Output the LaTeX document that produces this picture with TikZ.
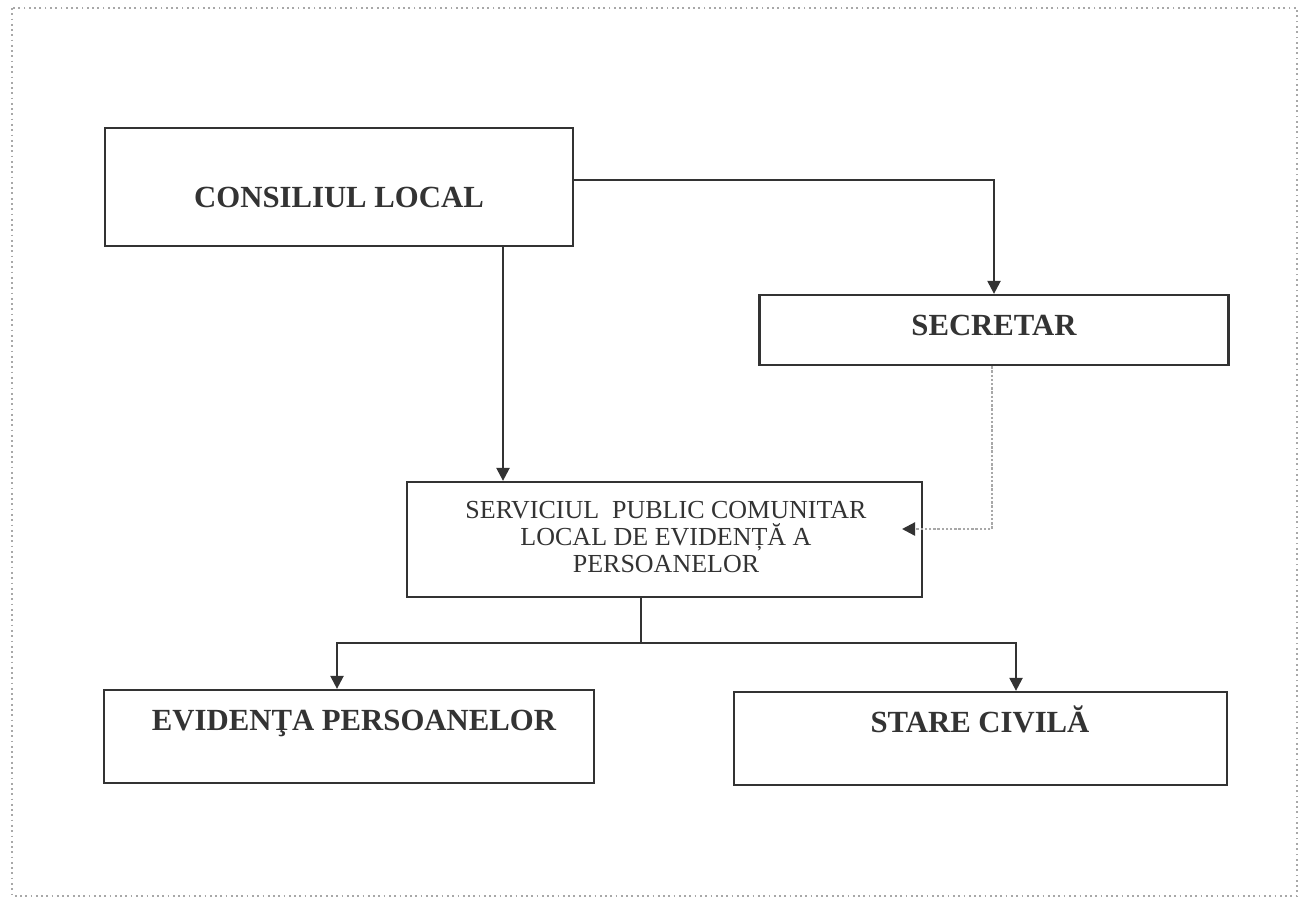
\documentclass[tikz,border=0pt]{standalone}
\usepackage{fontspec}
\setmainfont{Liberation Serif}
\usepackage{tikz}
\usetikzlibrary{arrows.meta}
\usepackage{xcolor}
\definecolor{ink}{HTML}{333333}
\definecolor{frame}{HTML}{A8A8A8}
\tikzset{%
    box/.style 2 args={draw=ink, line width=1.3pt, inner sep=0pt,
        minimum width=#1, minimum height=#2},
    bigtext/.style={font=\fontsize{17.5}{20}\selectfont\bfseries, text=ink, inner sep=0pt},
    smalltext/.style={font=\fontsize{14.8}{15.4}\selectfont, text=ink, align=center, inner sep=0pt},
    arr/.style={-{Triangle[length=7.4pt,width=7.4pt]}, line width=1.3pt, draw=ink},
    dots/.style={densely dotted, line width=1.4pt, draw=frame}
}

\begin{document}
\begin{tikzpicture}[x=0.02cm,y=-0.02cm]
    \useasboundingbox (0,0) rectangle (1307,899);
    \draw[dotted, line width=1pt, frame] (12,8) rectangle (1297,896);
    % boxes
    \node[box={9.36cm}{2.36cm}] (CL) at (339,187) {};
    \node[box={9.38cm}{1.40cm}] (S) at (994,330) {};
    \node[box={10.30cm}{2.30cm}] (SP) at (664.5,539.5) {};
    \node[box={9.80cm}{1.86cm}] (EP) at (349,736.5) {};
    \node[box={9.86cm}{1.86cm}] (SC) at (980.5,738.5) {};
    % texts
    \node[bigtext, anchor=base] (CLt) at (339,207) {CONSILIUL LOCAL};
    \node[bigtext, anchor=base] (St) at (994,335) {SECRETAR};
    \node[smalltext] (SPt) at (666,537) {SERVICIUL\ \ PUBLIC COMUNITAR\\LOCAL DE EVIDENȚĂ A\\PERSOANELOR};
    \node[bigtext, anchor=base] (EPt) at (354,730) {EVIDENŢA PERSOANELOR};
    \node[bigtext, anchor=base] (SCt) at (980,732) {STARE CIVILĂ};
    % connectors
    \coordinate (tip) at (902,529);
    \coordinate (J) at (641,643);
    \draw[arr] (CL.south -| 503,0) -- (SP.north -| 503,0);
    \draw[arr] (CL.east |- 0,180) -| (S.north);
    \draw[dots] (S.south -| 992,0) |- ([xshift=6pt]tip);
    \draw[arr] ([xshift=7.4pt]tip) -- (tip);
    \draw[line width=1.3pt, ink] (SP.south -| J) -- (J);
    \draw[arr] (J) -| (EP.north -| 337,0);
    \draw[arr] (J) -| (SC.north -| 1016,0);
\end{tikzpicture}
\end{document}
